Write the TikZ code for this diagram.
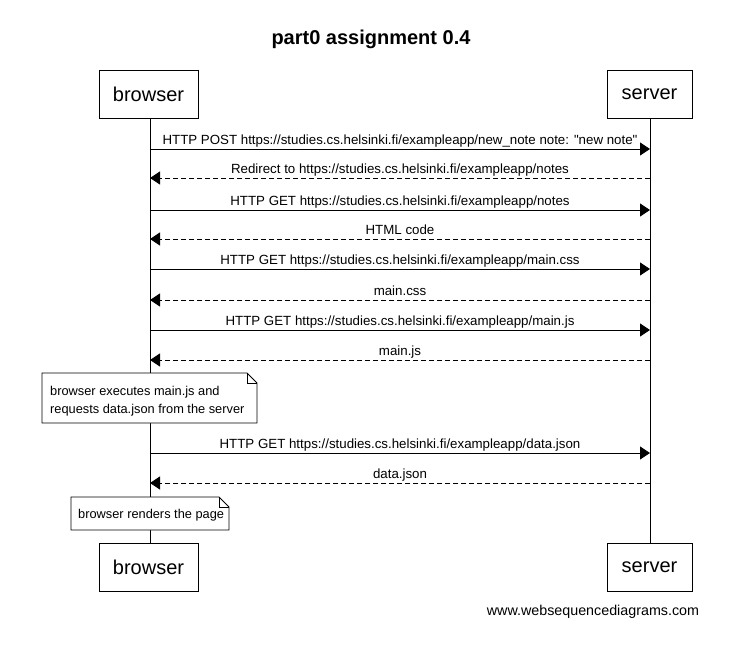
\documentclass[tikz,border=0pt]{standalone}
\usepackage{fontspec}
\setmainfont{Liberation Sans}
\usetikzlibrary{arrows.meta}
\begin{document}
\begin{tikzpicture}[x=1pt,y=-1pt,
  actor/.style={draw,fill=white,line width=0.8pt,minimum height=48pt,font=\fontsize{20}{24}\selectfont,inner sep=0pt},
  msg/.style={line width=0.8pt,-{Triangle[length=10pt,width=13pt]}},
  ret/.style={msg,dash pattern=on 5pt off 3pt},
  lbl/.style={font=\fontsize{13.3}{16}\selectfont,inner sep=0pt,anchor=base},
  notetxt/.style={font=\fontsize{12.8}{15}\selectfont,inner sep=0pt,anchor=base west},
  notebox/.style={fill=white,line width=0.8pt},
  life/.style={line width=0.8pt}]
\useasboundingbox (0,0) rectangle (749,658);
\node[font=\bfseries\fontsize{20}{24}\selectfont] (title) at (371,39) {part0 assignment 0.4};
\node[actor,minimum width=99pt] (bt) at (148.5,94) {browser};
\node[actor,minimum width=85pt] (st) at (649.5,94) {server};
\node[actor,minimum width=99pt] (bb) at (148.5,567.5) {browser};
\node[actor,minimum width=85pt] (sb) at (649.5,567.5) {server};
\coordinate (bl) at (150,0);
\coordinate (sl) at (650,0);
\draw[life] (bt.south -| bl) -- (bb.north -| bl);
\draw[life] (st.south -| sl) -- (sb.north -| sl);
% messages
\foreach \y/\t/\s in {
  149/{HTTP POST https://studies.cs.helsinki.fi/exampleapp/new\_note note: \textquotedbl new note\textquotedbl}/msg,
  210/{HTTP GET https://studies.cs.helsinki.fi/exampleapp/notes}/msg,
  269/{HTTP GET https://studies.cs.helsinki.fi/exampleapp/main.css}/msg,
  330/{HTTP GET https://studies.cs.helsinki.fi/exampleapp/main.js}/msg,
  453/{HTTP GET https://studies.cs.helsinki.fi/exampleapp/data.json}/msg}{
  \coordinate (a\y) at (150,\y);
  \coordinate (b\y) at (650,\y);
  \draw[\s] (a\y) -- (b\y);
  \node[lbl] at (400,\y-5) {\t};
}
\foreach \y/\t in {
  178/{Redirect to https://studies.cs.helsinki.fi/exampleapp/notes},
  239/{HTML code},
  300/{main.css},
  360/{main.js},
  483/{data.json}}{
  \coordinate (a\y) at (150,\y);
  \coordinate (b\y) at (650,\y);
  \draw[ret] (b\y) -- (a\y);
  \node[lbl] at (400,\y-5) {\t};
}
% notes
\draw[notebox] (42,373) -- (247,373) -- (257,383) -- (257,423) -- (42,423) -- cycle;
\draw[line width=0.5pt] (247,373) -- (247,383) -- (257,383);
\node[notetxt] (n1) at (50,395) {browser executes main.js and};
\node[notetxt] (n1b) at (50,413) {requests data.json from the server};
\draw[notebox] (71,497) -- (219,497) -- (229,507) -- (229,530) -- (71,530) -- cycle;
\draw[line width=0.5pt] (219,497) -- (219,507) -- (229,507);
\node[notetxt] (n2) at (78,518) {browser renders the page};
\node[font=\fontsize{14.3}{17}\selectfont,anchor=base] (foot) at (593,615) {www.websequencediagrams.com};
\end{tikzpicture}
\end{document}
